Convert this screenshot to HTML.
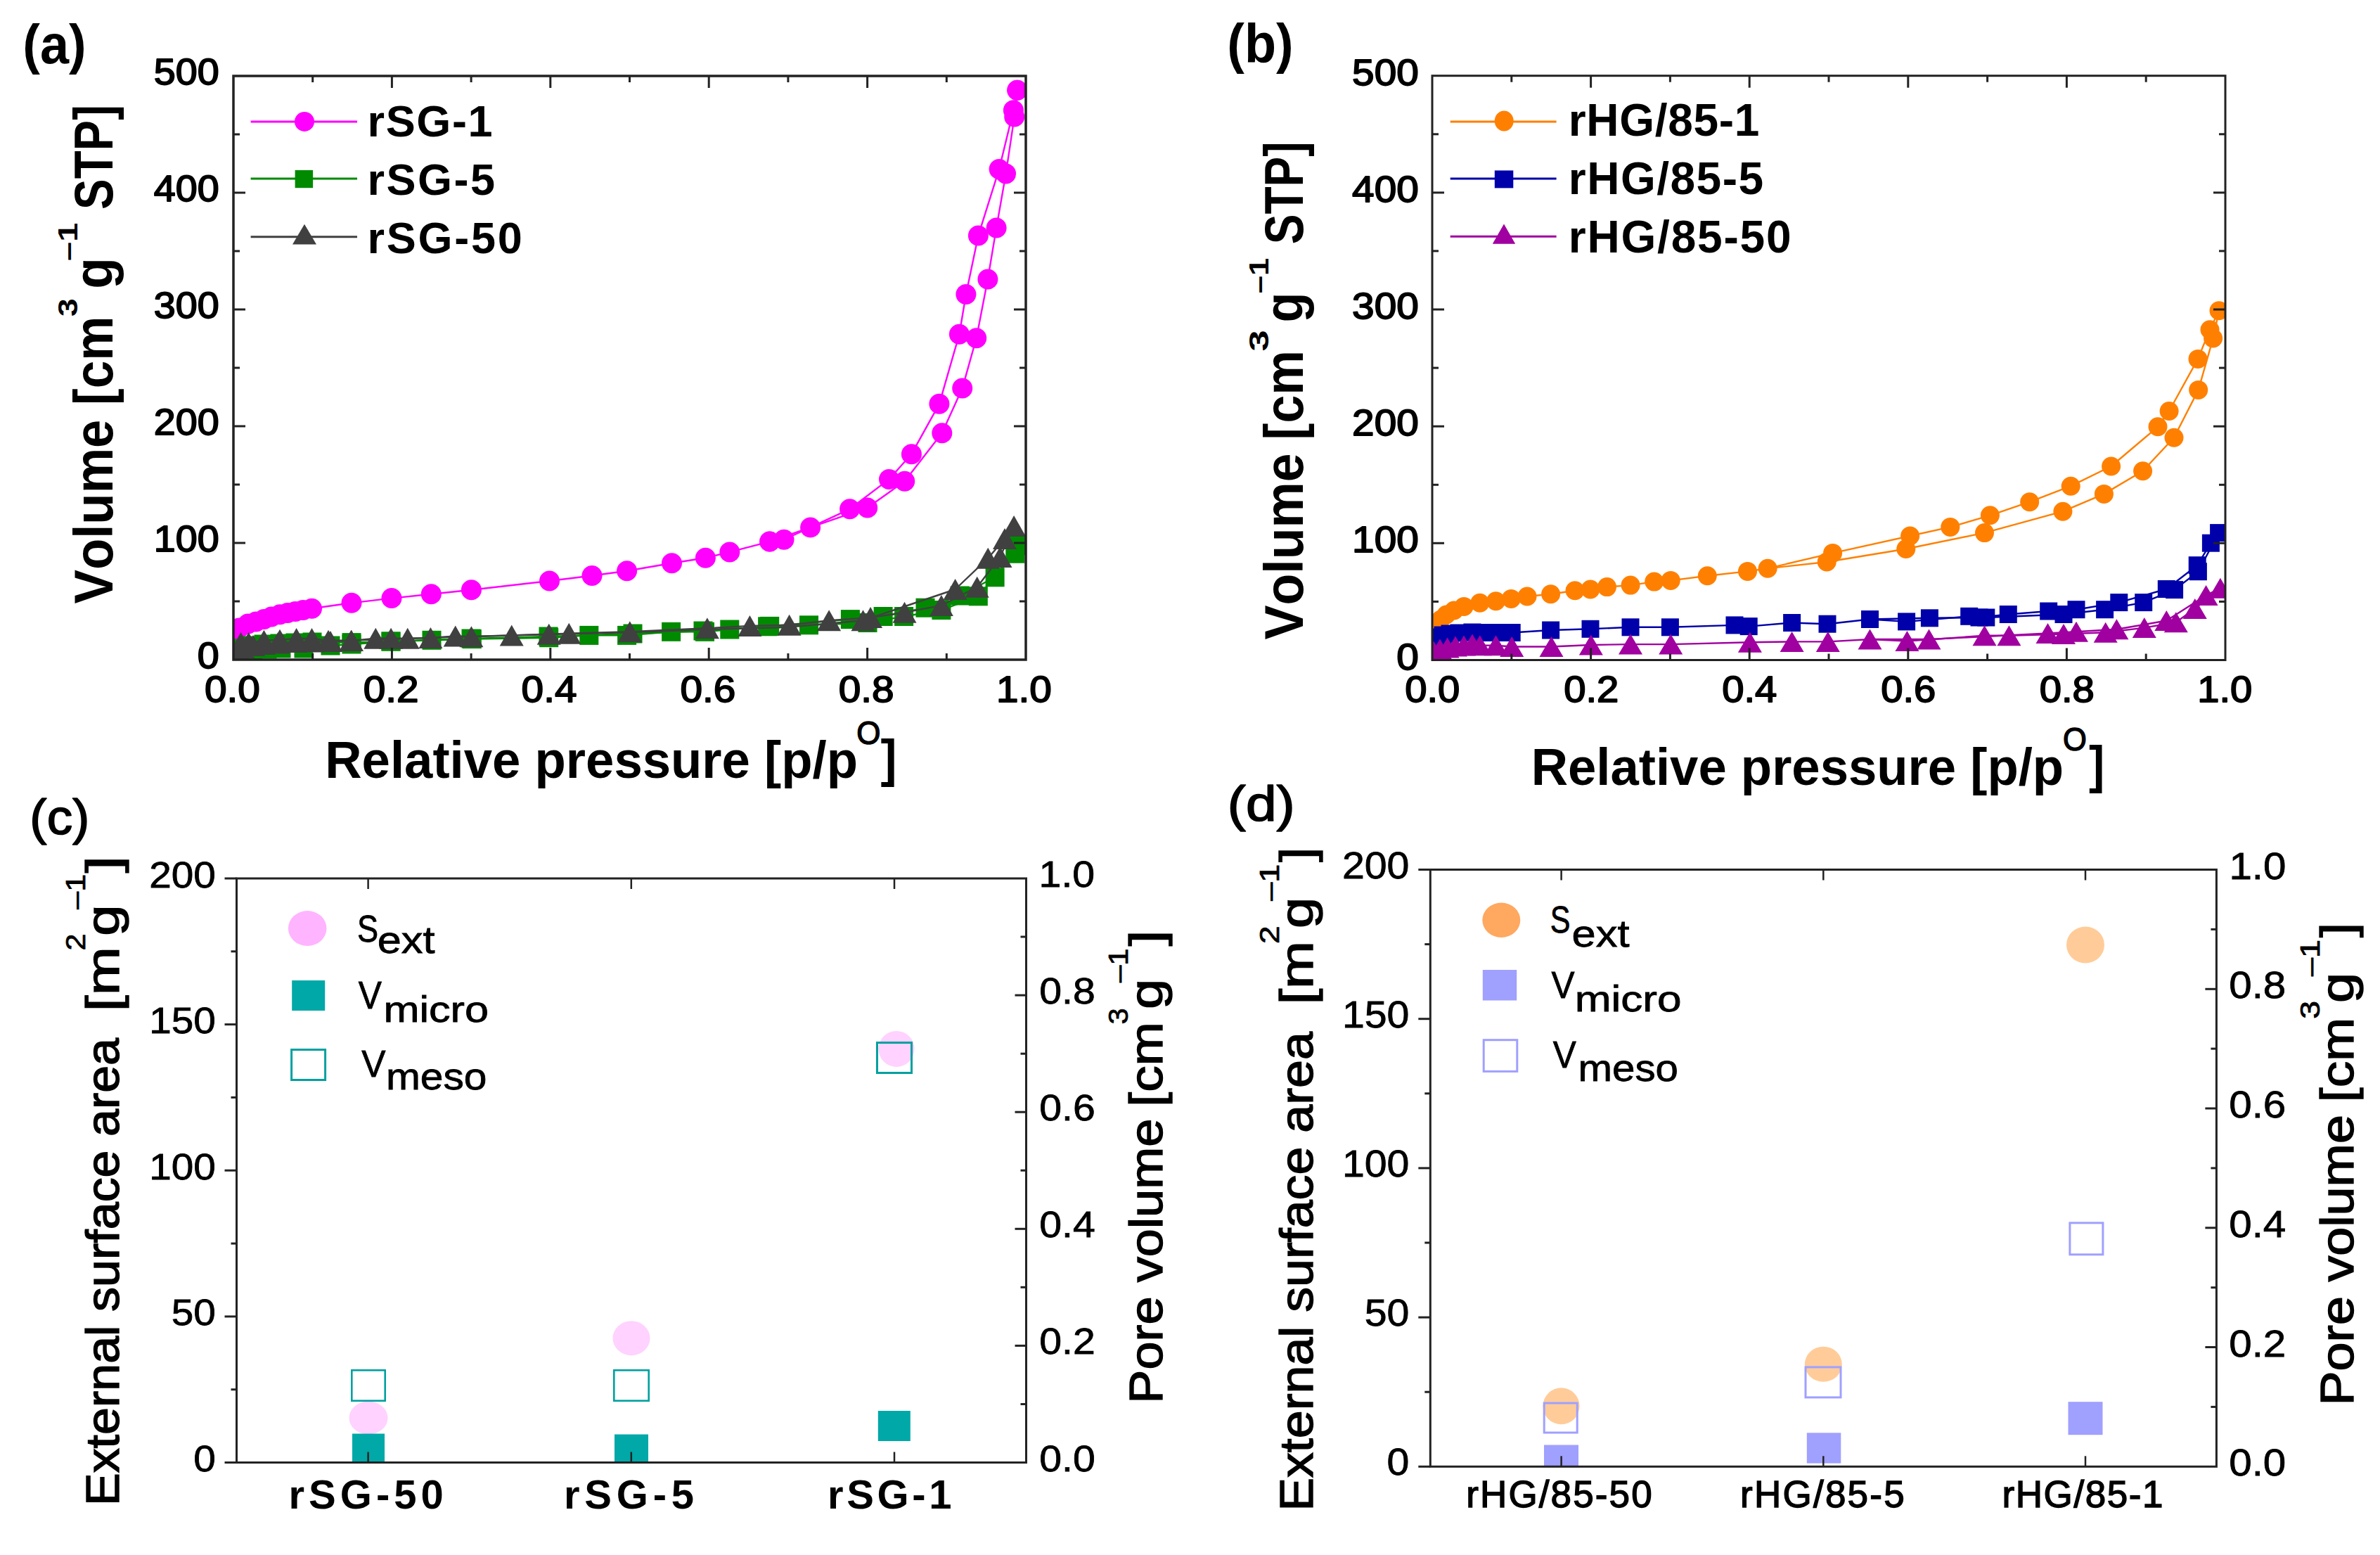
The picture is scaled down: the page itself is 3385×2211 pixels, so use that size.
<!DOCTYPE html><html><head><meta charset="utf-8"><title>Nitrogen sorption isotherms and pore parameters</title><style>html,body{margin:0;padding:0;background:#fff;width:3385px;height:2211px;overflow:hidden}svg{display:block}text{font-family:"Liberation Sans", sans-serif;font-kerning:none;white-space:pre}</style></head><body><svg width="3385" height="2211" viewBox="0 0 3385 2211">
<rect width="3385" height="2211" fill="#fff"/>
<defs><clipPath id="ca"><rect x="332" y="108" width="1127" height="830"/></clipPath><clipPath id="cb"><rect x="2037" y="107.7" width="1128" height="830.8"/></clipPath><clipPath id="cc"><rect x="336.5" y="1249" width="1123" height="830.5"/></clipPath><clipPath id="cd"><rect x="2034.3" y="1236.5" width="1118.1" height="848.8"/></clipPath></defs>
<g clip-path="url(#ca)">
<polyline points="333.4,902.0 340.0,893.0 352.7,887.0 364.0,884.0 375.4,880.4 386.0,877.0 398.0,873.7 409.0,871.5 420.0,869.5 431.0,867.5 443.5,865.3 500.0,857.3 557.0,850.6 613.3,844.7 670.4,838.8 781.5,826.0 842.0,818.5 891.6,811.8 955.5,800.8 1003.4,793.3 1037.8,784.9 1094.7,770.1 1152.6,749.9 1233.7,721.9 1286.7,684.3 1339.8,615.8 1368.7,552.1 1388.7,480.7 1404.9,397.0 1417.1,324.1 1430.6,247.1 1442.7,166.1 1446.8,128.3" fill="none" stroke="#ff00ff" stroke-width="2.4" stroke-linejoin="round"/>
<polyline points="1446.8,128.3 1441.4,156.7 1421.1,240.4 1391.4,334.9 1373.9,418.6 1364.4,475.3 1335.9,574.3 1296.4,645.7 1264.5,681.4 1208.6,723.8 1115.0,767.2 1094.7,770.1" fill="none" stroke="#ff00ff" stroke-width="2.4" stroke-linejoin="round"/>
<circle cx="333.4" cy="902.0" r="14.5" fill="#ff00ff"/>
<circle cx="340.0" cy="893.0" r="14.5" fill="#ff00ff"/>
<circle cx="352.7" cy="887.0" r="14.5" fill="#ff00ff"/>
<circle cx="364.0" cy="884.0" r="14.5" fill="#ff00ff"/>
<circle cx="375.4" cy="880.4" r="14.5" fill="#ff00ff"/>
<circle cx="386.0" cy="877.0" r="14.5" fill="#ff00ff"/>
<circle cx="398.0" cy="873.7" r="14.5" fill="#ff00ff"/>
<circle cx="409.0" cy="871.5" r="14.5" fill="#ff00ff"/>
<circle cx="420.0" cy="869.5" r="14.5" fill="#ff00ff"/>
<circle cx="431.0" cy="867.5" r="14.5" fill="#ff00ff"/>
<circle cx="443.5" cy="865.3" r="14.5" fill="#ff00ff"/>
<circle cx="500.0" cy="857.3" r="14.5" fill="#ff00ff"/>
<circle cx="557.0" cy="850.6" r="14.5" fill="#ff00ff"/>
<circle cx="613.3" cy="844.7" r="14.5" fill="#ff00ff"/>
<circle cx="670.4" cy="838.8" r="14.5" fill="#ff00ff"/>
<circle cx="781.5" cy="826.0" r="14.5" fill="#ff00ff"/>
<circle cx="842.0" cy="818.5" r="14.5" fill="#ff00ff"/>
<circle cx="891.6" cy="811.8" r="14.5" fill="#ff00ff"/>
<circle cx="955.5" cy="800.8" r="14.5" fill="#ff00ff"/>
<circle cx="1003.4" cy="793.3" r="14.5" fill="#ff00ff"/>
<circle cx="1037.8" cy="784.9" r="14.5" fill="#ff00ff"/>
<circle cx="1094.7" cy="770.1" r="14.5" fill="#ff00ff"/>
<circle cx="1152.6" cy="749.9" r="14.5" fill="#ff00ff"/>
<circle cx="1233.7" cy="721.9" r="14.5" fill="#ff00ff"/>
<circle cx="1286.7" cy="684.3" r="14.5" fill="#ff00ff"/>
<circle cx="1339.8" cy="615.8" r="14.5" fill="#ff00ff"/>
<circle cx="1368.7" cy="552.1" r="14.5" fill="#ff00ff"/>
<circle cx="1388.7" cy="480.7" r="14.5" fill="#ff00ff"/>
<circle cx="1404.9" cy="397.0" r="14.5" fill="#ff00ff"/>
<circle cx="1417.1" cy="324.1" r="14.5" fill="#ff00ff"/>
<circle cx="1430.6" cy="247.1" r="14.5" fill="#ff00ff"/>
<circle cx="1442.7" cy="166.1" r="14.5" fill="#ff00ff"/>
<circle cx="1446.8" cy="128.3" r="14.5" fill="#ff00ff"/>
<circle cx="1446.8" cy="128.3" r="14.5" fill="#ff00ff"/>
<circle cx="1441.4" cy="156.7" r="14.5" fill="#ff00ff"/>
<circle cx="1421.1" cy="240.4" r="14.5" fill="#ff00ff"/>
<circle cx="1391.4" cy="334.9" r="14.5" fill="#ff00ff"/>
<circle cx="1373.9" cy="418.6" r="14.5" fill="#ff00ff"/>
<circle cx="1364.4" cy="475.3" r="14.5" fill="#ff00ff"/>
<circle cx="1335.9" cy="574.3" r="14.5" fill="#ff00ff"/>
<circle cx="1296.4" cy="645.7" r="14.5" fill="#ff00ff"/>
<circle cx="1264.5" cy="681.4" r="14.5" fill="#ff00ff"/>
<circle cx="1208.6" cy="723.8" r="14.5" fill="#ff00ff"/>
<circle cx="1115.0" cy="767.2" r="14.5" fill="#ff00ff"/>
<circle cx="1094.7" cy="770.1" r="14.5" fill="#ff00ff"/>
<polyline points="334.0,934.0 345.0,930.0 360.0,926.0 380.0,923.0 400.0,922.0 432.0,922.0 470.0,918.0 500.0,916.0 556.0,912.0 614.0,910.3 671.3,908.6 780.7,906.7 837.8,903.4 891.6,903.4 954.6,898.3 1002.5,898.3 1037.8,895.0 1094.7,890.4 1150.5,888.8 1234.0,885.5 1285.6,876.5 1338.9,867.5 1391.3,847.8 1443.8,787.2 1447.0,775.7" fill="none" stroke="#008a00" stroke-width="2.4" stroke-linejoin="round"/>
<polyline points="1447.0,775.7 1415.1,820.8 1365.1,847.0 1316.0,864.2 1256.1,876.5 1209.4,880.6 1091.6,890.8 1000.0,897.0 900.0,901.0 780.0,905.0 670.0,908.0 556.0,912.0 500.0,913.6 444.0,913.0 420.0,914.0 398.0,915.0 375.0,916.0 353.0,918.0 340.0,922.0" fill="none" stroke="#008a00" stroke-width="2.4" stroke-linejoin="round"/>
<rect x="320.5" y="920.5" width="27" height="27" fill="#008a00"/>
<rect x="331.5" y="916.5" width="27" height="27" fill="#008a00"/>
<rect x="346.5" y="912.5" width="27" height="27" fill="#008a00"/>
<rect x="366.5" y="909.5" width="27" height="27" fill="#008a00"/>
<rect x="386.5" y="908.5" width="27" height="27" fill="#008a00"/>
<rect x="418.5" y="908.5" width="27" height="27" fill="#008a00"/>
<rect x="456.5" y="904.5" width="27" height="27" fill="#008a00"/>
<rect x="486.5" y="902.5" width="27" height="27" fill="#008a00"/>
<rect x="542.5" y="898.5" width="27" height="27" fill="#008a00"/>
<rect x="600.5" y="896.8" width="27" height="27" fill="#008a00"/>
<rect x="657.8" y="895.1" width="27" height="27" fill="#008a00"/>
<rect x="767.2" y="893.2" width="27" height="27" fill="#008a00"/>
<rect x="824.3" y="889.9" width="27" height="27" fill="#008a00"/>
<rect x="878.1" y="889.9" width="27" height="27" fill="#008a00"/>
<rect x="941.1" y="884.8" width="27" height="27" fill="#008a00"/>
<rect x="989.0" y="884.8" width="27" height="27" fill="#008a00"/>
<rect x="1024.3" y="881.5" width="27" height="27" fill="#008a00"/>
<rect x="1081.2" y="876.9" width="27" height="27" fill="#008a00"/>
<rect x="1137.0" y="875.3" width="27" height="27" fill="#008a00"/>
<rect x="1220.5" y="872.0" width="27" height="27" fill="#008a00"/>
<rect x="1272.1" y="863.0" width="27" height="27" fill="#008a00"/>
<rect x="1325.4" y="854.0" width="27" height="27" fill="#008a00"/>
<rect x="1377.8" y="834.3" width="27" height="27" fill="#008a00"/>
<rect x="1430.3" y="773.7" width="27" height="27" fill="#008a00"/>
<rect x="1433.5" y="762.2" width="27" height="27" fill="#008a00"/>
<rect x="1401.6" y="807.3" width="27" height="27" fill="#008a00"/>
<rect x="1351.6" y="833.5" width="27" height="27" fill="#008a00"/>
<rect x="1302.5" y="850.7" width="27" height="27" fill="#008a00"/>
<rect x="1242.6" y="863.0" width="27" height="27" fill="#008a00"/>
<rect x="1195.9" y="867.1" width="27" height="27" fill="#008a00"/>
<rect x="1078.1" y="877.3" width="27" height="27" fill="#008a00"/>
<rect x="986.5" y="883.5" width="27" height="27" fill="#008a00"/>
<rect x="886.5" y="887.5" width="27" height="27" fill="#008a00"/>
<rect x="766.5" y="891.5" width="27" height="27" fill="#008a00"/>
<rect x="656.5" y="894.5" width="27" height="27" fill="#008a00"/>
<rect x="542.5" y="898.5" width="27" height="27" fill="#008a00"/>
<rect x="486.5" y="900.1" width="27" height="27" fill="#008a00"/>
<rect x="430.5" y="899.5" width="27" height="27" fill="#008a00"/>
<rect x="406.5" y="900.5" width="27" height="27" fill="#008a00"/>
<rect x="384.5" y="901.5" width="27" height="27" fill="#008a00"/>
<rect x="361.5" y="902.5" width="27" height="27" fill="#008a00"/>
<rect x="339.5" y="904.5" width="27" height="27" fill="#008a00"/>
<rect x="326.5" y="908.5" width="27" height="27" fill="#008a00"/>
<polyline points="334.0,928.0 338.0,924.0 345.0,921.0 360.0,918.0 375.0,916.0 395.0,914.5 420.0,913.0 445.0,912.5 470.0,912.0 500.0,911.0 534.3,907.7 556.1,907.7 579.7,907.7 612.4,906.9 647.7,904.4 670.4,905.2 727.7,903.4 780.7,901.7 809.2,900.8 895.8,898.3 1005.9,893.3 1066.4,889.9 1122.6,888.8 1179.1,882.2 1238.1,878.1 1286.5,870.7 1338.9,860.9 1389.7,834.7 1422.5,792.1 1442.1,747.9" fill="none" stroke="#404040" stroke-width="2.4" stroke-linejoin="round"/>
<polyline points="1442.1,747.9 1429.0,765.9 1405.2,793.7 1358.6,838.0 1227.5,882.2 1117.7,892.0 1000.0,895.0 900.0,899.0 780.0,902.0 670.0,905.0 499.4,910.7 467.0,910.7 443.5,908.0 421.6,908.0 398.0,909.8 375.4,910.7 353.6,914.0 342.6,914.0" fill="none" stroke="#404040" stroke-width="2.4" stroke-linejoin="round"/>
<polygon points="334.0,913.0 317.0,943.0 351.0,943.0" fill="#404040"/>
<polygon points="338.0,909.0 321.0,939.0 355.0,939.0" fill="#404040"/>
<polygon points="345.0,906.0 328.0,936.0 362.0,936.0" fill="#404040"/>
<polygon points="360.0,903.0 343.0,933.0 377.0,933.0" fill="#404040"/>
<polygon points="375.0,901.0 358.0,931.0 392.0,931.0" fill="#404040"/>
<polygon points="395.0,899.5 378.0,929.5 412.0,929.5" fill="#404040"/>
<polygon points="420.0,898.0 403.0,928.0 437.0,928.0" fill="#404040"/>
<polygon points="445.0,897.5 428.0,927.5 462.0,927.5" fill="#404040"/>
<polygon points="470.0,897.0 453.0,927.0 487.0,927.0" fill="#404040"/>
<polygon points="500.0,896.0 483.0,926.0 517.0,926.0" fill="#404040"/>
<polygon points="534.3,892.7 517.3,922.7 551.3,922.7" fill="#404040"/>
<polygon points="556.1,892.7 539.1,922.7 573.1,922.7" fill="#404040"/>
<polygon points="579.7,892.7 562.7,922.7 596.7,922.7" fill="#404040"/>
<polygon points="612.4,891.9 595.4,921.9 629.4,921.9" fill="#404040"/>
<polygon points="647.7,889.4 630.7,919.4 664.7,919.4" fill="#404040"/>
<polygon points="670.4,890.2 653.4,920.2 687.4,920.2" fill="#404040"/>
<polygon points="727.7,888.4 710.7,918.4 744.7,918.4" fill="#404040"/>
<polygon points="780.7,886.7 763.7,916.7 797.7,916.7" fill="#404040"/>
<polygon points="809.2,885.8 792.2,915.8 826.2,915.8" fill="#404040"/>
<polygon points="895.8,883.3 878.8,913.3 912.8,913.3" fill="#404040"/>
<polygon points="1005.9,878.3 988.9,908.3 1022.9,908.3" fill="#404040"/>
<polygon points="1066.4,874.9 1049.4,904.9 1083.4,904.9" fill="#404040"/>
<polygon points="1122.6,873.8 1105.6,903.8 1139.6,903.8" fill="#404040"/>
<polygon points="1179.1,867.2 1162.1,897.2 1196.1,897.2" fill="#404040"/>
<polygon points="1238.1,863.1 1221.1,893.1 1255.1,893.1" fill="#404040"/>
<polygon points="1286.5,855.7 1269.5,885.7 1303.5,885.7" fill="#404040"/>
<polygon points="1338.9,845.9 1321.9,875.9 1355.9,875.9" fill="#404040"/>
<polygon points="1389.7,819.7 1372.7,849.7 1406.7,849.7" fill="#404040"/>
<polygon points="1422.5,777.1 1405.5,807.1 1439.5,807.1" fill="#404040"/>
<polygon points="1442.1,732.9 1425.1,762.9 1459.1,762.9" fill="#404040"/>
<polygon points="1429.0,750.9 1412.0,780.9 1446.0,780.9" fill="#404040"/>
<polygon points="1405.2,778.7 1388.2,808.7 1422.2,808.7" fill="#404040"/>
<polygon points="1358.6,823.0 1341.6,853.0 1375.6,853.0" fill="#404040"/>
<polygon points="1227.5,867.2 1210.5,897.2 1244.5,897.2" fill="#404040"/>
<polygon points="499.4,895.7 482.4,925.7 516.4,925.7" fill="#404040"/>
<polygon points="467.0,895.7 450.0,925.7 484.0,925.7" fill="#404040"/>
<polygon points="443.5,893.0 426.5,923.0 460.5,923.0" fill="#404040"/>
<polygon points="421.6,893.0 404.6,923.0 438.6,923.0" fill="#404040"/>
<polygon points="398.0,894.8 381.0,924.8 415.0,924.8" fill="#404040"/>
<polygon points="375.4,895.7 358.4,925.7 392.4,925.7" fill="#404040"/>
<polygon points="353.6,899.0 336.6,929.0 370.6,929.0" fill="#404040"/>
<polygon points="342.6,899.0 325.6,929.0 359.6,929.0" fill="#404040"/>
</g>
<rect x="332.0" y="108.0" width="1127.0" height="830.0" fill="none" stroke="#222" stroke-width="3.5"/>
<line x1="444.7" y1="938.0" x2="444.7" y2="929.0" stroke="#222" stroke-width="3"/>
<line x1="444.7" y1="108.0" x2="444.7" y2="117.0" stroke="#222" stroke-width="3"/>
<line x1="332.0" y1="855.0" x2="341.0" y2="855.0" stroke="#222" stroke-width="3"/>
<line x1="1459.0" y1="855.0" x2="1450.0" y2="855.0" stroke="#222" stroke-width="3"/>
<line x1="557.4" y1="938.0" x2="557.4" y2="921.0" stroke="#222" stroke-width="3"/>
<line x1="557.4" y1="108.0" x2="557.4" y2="125.0" stroke="#222" stroke-width="3"/>
<line x1="332.0" y1="772.0" x2="349.0" y2="772.0" stroke="#222" stroke-width="3"/>
<line x1="1459.0" y1="772.0" x2="1442.0" y2="772.0" stroke="#222" stroke-width="3"/>
<line x1="670.1" y1="938.0" x2="670.1" y2="929.0" stroke="#222" stroke-width="3"/>
<line x1="670.1" y1="108.0" x2="670.1" y2="117.0" stroke="#222" stroke-width="3"/>
<line x1="332.0" y1="689.0" x2="341.0" y2="689.0" stroke="#222" stroke-width="3"/>
<line x1="1459.0" y1="689.0" x2="1450.0" y2="689.0" stroke="#222" stroke-width="3"/>
<line x1="782.8" y1="938.0" x2="782.8" y2="921.0" stroke="#222" stroke-width="3"/>
<line x1="782.8" y1="108.0" x2="782.8" y2="125.0" stroke="#222" stroke-width="3"/>
<line x1="332.0" y1="606.0" x2="349.0" y2="606.0" stroke="#222" stroke-width="3"/>
<line x1="1459.0" y1="606.0" x2="1442.0" y2="606.0" stroke="#222" stroke-width="3"/>
<line x1="895.5" y1="938.0" x2="895.5" y2="929.0" stroke="#222" stroke-width="3"/>
<line x1="895.5" y1="108.0" x2="895.5" y2="117.0" stroke="#222" stroke-width="3"/>
<line x1="332.0" y1="523.0" x2="341.0" y2="523.0" stroke="#222" stroke-width="3"/>
<line x1="1459.0" y1="523.0" x2="1450.0" y2="523.0" stroke="#222" stroke-width="3"/>
<line x1="1008.2" y1="938.0" x2="1008.2" y2="921.0" stroke="#222" stroke-width="3"/>
<line x1="1008.2" y1="108.0" x2="1008.2" y2="125.0" stroke="#222" stroke-width="3"/>
<line x1="332.0" y1="440.0" x2="349.0" y2="440.0" stroke="#222" stroke-width="3"/>
<line x1="1459.0" y1="440.0" x2="1442.0" y2="440.0" stroke="#222" stroke-width="3"/>
<line x1="1120.9" y1="938.0" x2="1120.9" y2="929.0" stroke="#222" stroke-width="3"/>
<line x1="1120.9" y1="108.0" x2="1120.9" y2="117.0" stroke="#222" stroke-width="3"/>
<line x1="332.0" y1="357.0" x2="341.0" y2="357.0" stroke="#222" stroke-width="3"/>
<line x1="1459.0" y1="357.0" x2="1450.0" y2="357.0" stroke="#222" stroke-width="3"/>
<line x1="1233.6" y1="938.0" x2="1233.6" y2="921.0" stroke="#222" stroke-width="3"/>
<line x1="1233.6" y1="108.0" x2="1233.6" y2="125.0" stroke="#222" stroke-width="3"/>
<line x1="332.0" y1="274.0" x2="349.0" y2="274.0" stroke="#222" stroke-width="3"/>
<line x1="1459.0" y1="274.0" x2="1442.0" y2="274.0" stroke="#222" stroke-width="3"/>
<line x1="1346.3" y1="938.0" x2="1346.3" y2="929.0" stroke="#222" stroke-width="3"/>
<line x1="1346.3" y1="108.0" x2="1346.3" y2="117.0" stroke="#222" stroke-width="3"/>
<line x1="332.0" y1="191.0" x2="341.0" y2="191.0" stroke="#222" stroke-width="3"/>
<line x1="1459.0" y1="191.0" x2="1450.0" y2="191.0" stroke="#222" stroke-width="3"/>
<text x="291.09" y="998.00" font-size="52.5" font-weight="normal" fill="#000" textLength="78.82" lengthAdjust="spacingAndGlyphs" stroke="#000" stroke-width="1.8" stroke-linejoin="round">0.0</text>
<text x="280.74" y="950.30" font-size="51.5" font-weight="normal" fill="#000" textLength="30.93" lengthAdjust="spacingAndGlyphs" stroke="#000" stroke-width="1.8" stroke-linejoin="round">0</text>
<text x="516.81" y="998.00" font-size="52.5" font-weight="normal" fill="#000" textLength="78.82" lengthAdjust="spacingAndGlyphs" stroke="#000" stroke-width="1.8" stroke-linejoin="round">0.2</text>
<text x="218.87" y="784.30" font-size="51.5" font-weight="normal" fill="#000" textLength="92.80" lengthAdjust="spacingAndGlyphs" stroke="#000" stroke-width="1.8" stroke-linejoin="round">100</text>
<text x="741.61" y="998.00" font-size="52.5" font-weight="normal" fill="#000" textLength="78.82" lengthAdjust="spacingAndGlyphs" stroke="#000" stroke-width="1.8" stroke-linejoin="round">0.4</text>
<text x="218.87" y="618.30" font-size="51.5" font-weight="normal" fill="#000" textLength="92.80" lengthAdjust="spacingAndGlyphs" stroke="#000" stroke-width="1.8" stroke-linejoin="round">200</text>
<text x="967.43" y="998.00" font-size="52.5" font-weight="normal" fill="#000" textLength="78.82" lengthAdjust="spacingAndGlyphs" stroke="#000" stroke-width="1.8" stroke-linejoin="round">0.6</text>
<text x="218.87" y="452.30" font-size="51.5" font-weight="normal" fill="#000" textLength="92.80" lengthAdjust="spacingAndGlyphs" stroke="#000" stroke-width="1.8" stroke-linejoin="round">300</text>
<text x="1192.81" y="998.00" font-size="52.5" font-weight="normal" fill="#000" textLength="78.82" lengthAdjust="spacingAndGlyphs" stroke="#000" stroke-width="1.8" stroke-linejoin="round">0.8</text>
<text x="218.87" y="286.30" font-size="51.5" font-weight="normal" fill="#000" textLength="92.80" lengthAdjust="spacingAndGlyphs" stroke="#000" stroke-width="1.8" stroke-linejoin="round">400</text>
<text x="1417.04" y="998.00" font-size="52.5" font-weight="normal" fill="#000" textLength="78.82" lengthAdjust="spacingAndGlyphs" stroke="#000" stroke-width="1.8" stroke-linejoin="round">1.0</text>
<text x="218.87" y="120.30" font-size="51.5" font-weight="normal" fill="#000" textLength="92.80" lengthAdjust="spacingAndGlyphs" stroke="#000" stroke-width="1.8" stroke-linejoin="round">500</text>
<line x1="356.6" y1="172.9" x2="508.0" y2="172.9" stroke="#ff00ff" stroke-width="3"/>
<circle cx="433.0" cy="172.9" r="14" fill="#ff00ff"/>
<text x="522.55" y="194.00" font-size="63" font-weight="bold" letter-spacing="1.61" >rSG-1</text>
<line x1="356.6" y1="254.0" x2="508.0" y2="254.0" stroke="#008a00" stroke-width="3"/>
<rect x="419.6" y="241.9" width="25.5" height="25.3" fill="#008a00"/>
<text x="522.55" y="276.80" font-size="63" font-weight="bold" letter-spacing="2.51" >rSG-5</text>
<line x1="356.6" y1="336.8" x2="508.0" y2="336.8" stroke="#404040" stroke-width="3"/>
<polygon points="433.0,318.8 416.0,347.6 450.0,347.6" fill="#404040"/>
<text x="522.55" y="359.60" font-size="63" font-weight="bold" letter-spacing="2.75" >rSG-50</text>
<text x="32.32" y="90.20" font-size="77.3" font-weight="bold" fill="#000" textLength="90.36" lengthAdjust="spacingAndGlyphs" >(a)</text>
<text transform="translate(160.20,858.00) rotate(-90)" x="-0.50" y="0" font-size="77" font-weight="bold" textLength="261.97" lengthAdjust="spacingAndGlyphs" >Volume</text>
<text transform="translate(160.20,572.00) rotate(-90)" x="-3.99" y="0" font-size="77" font-weight="bold" textLength="126.40" lengthAdjust="spacingAndGlyphs" >[cm</text>
<text transform="translate(110.00,449.00) rotate(-90)" x="-1.06" y="0" font-size="38" font-weight="bold" textLength="25.73" lengthAdjust="spacingAndGlyphs" >3</text>
<text transform="translate(160.20,407.70) rotate(-90)" x="-2.99" y="0" font-size="77" font-weight="bold" textLength="44.57" lengthAdjust="spacingAndGlyphs" >g</text>
<text transform="translate(110.00,369.50) rotate(-90)" x="-1.48" y="0" font-size="38" font-weight="bold" textLength="54.34" lengthAdjust="spacingAndGlyphs" >–1</text>
<text transform="translate(160.20,296.00) rotate(-90)" x="-1.88" y="0" font-size="77" font-weight="bold" textLength="148.85" lengthAdjust="spacingAndGlyphs" >STP]</text>
<text x="462.25" y="1105.90" font-size="75" font-weight="bold" fill="#000" textLength="757.73" lengthAdjust="spacingAndGlyphs" >Relative pressure [p/p</text>
<text x="1218.32" y="1057.70" font-size="45.6" font-weight="normal" fill="#000" textLength="34.18" lengthAdjust="spacingAndGlyphs" stroke="#000" stroke-width="1.4">O</text>
<text x="1252.46" y="1104.00" font-size="75" font-weight="bold" fill="#000" textLength="23.03" lengthAdjust="spacingAndGlyphs" >]</text>
<g clip-path="url(#cb)">
<polyline points="2039.0,897.0 2043.0,889.0 2049.0,881.0 2057.0,874.0 2068.0,868.0 2082.1,862.4 2104.8,857.3 2127.5,854.8 2149.3,851.4 2172.0,848.0 2205.6,844.7 2240.0,839.7 2262.0,838.0 2285.5,834.6 2319.0,832.1 2352.7,827.1 2376.2,825.4 2428.3,818.7 2485.5,812.4 2514.1,808.2 2598.2,799.0 2710.8,780.5 2822.5,757.6 2933.9,727.2 2992.4,702.4 3047.6,669.8 3092.0,622.3 3126.7,554.4 3147.6,481.0 3156.0,441.7" fill="none" stroke="#ff8000" stroke-width="2.4" stroke-linejoin="round"/>
<polyline points="3156.0,441.7 3143.0,468.7 3126.0,510.4 3085.1,584.5 3069.0,606.8 3002.6,663.0 2945.2,691.2 2886.7,713.7 2830.4,732.8 2773.8,749.4 2716.6,762.0 2606.6,786.4 2514.1,808.2" fill="none" stroke="#ff8000" stroke-width="2.4" stroke-linejoin="round"/>
<circle cx="2039.0" cy="897.0" r="13.5" fill="#ff8000"/>
<circle cx="2043.0" cy="889.0" r="13.5" fill="#ff8000"/>
<circle cx="2049.0" cy="881.0" r="13.5" fill="#ff8000"/>
<circle cx="2057.0" cy="874.0" r="13.5" fill="#ff8000"/>
<circle cx="2068.0" cy="868.0" r="13.5" fill="#ff8000"/>
<circle cx="2082.1" cy="862.4" r="13.5" fill="#ff8000"/>
<circle cx="2104.8" cy="857.3" r="13.5" fill="#ff8000"/>
<circle cx="2127.5" cy="854.8" r="13.5" fill="#ff8000"/>
<circle cx="2149.3" cy="851.4" r="13.5" fill="#ff8000"/>
<circle cx="2172.0" cy="848.0" r="13.5" fill="#ff8000"/>
<circle cx="2205.6" cy="844.7" r="13.5" fill="#ff8000"/>
<circle cx="2240.0" cy="839.7" r="13.5" fill="#ff8000"/>
<circle cx="2262.0" cy="838.0" r="13.5" fill="#ff8000"/>
<circle cx="2285.5" cy="834.6" r="13.5" fill="#ff8000"/>
<circle cx="2319.0" cy="832.1" r="13.5" fill="#ff8000"/>
<circle cx="2352.7" cy="827.1" r="13.5" fill="#ff8000"/>
<circle cx="2376.2" cy="825.4" r="13.5" fill="#ff8000"/>
<circle cx="2428.3" cy="818.7" r="13.5" fill="#ff8000"/>
<circle cx="2485.5" cy="812.4" r="13.5" fill="#ff8000"/>
<circle cx="2514.1" cy="808.2" r="13.5" fill="#ff8000"/>
<circle cx="2598.2" cy="799.0" r="13.5" fill="#ff8000"/>
<circle cx="2710.8" cy="780.5" r="13.5" fill="#ff8000"/>
<circle cx="2822.5" cy="757.6" r="13.5" fill="#ff8000"/>
<circle cx="2933.9" cy="727.2" r="13.5" fill="#ff8000"/>
<circle cx="2992.4" cy="702.4" r="13.5" fill="#ff8000"/>
<circle cx="3047.6" cy="669.8" r="13.5" fill="#ff8000"/>
<circle cx="3092.0" cy="622.3" r="13.5" fill="#ff8000"/>
<circle cx="3126.7" cy="554.4" r="13.5" fill="#ff8000"/>
<circle cx="3147.6" cy="481.0" r="13.5" fill="#ff8000"/>
<circle cx="3156.0" cy="441.7" r="13.5" fill="#ff8000"/>
<circle cx="3143.0" cy="468.7" r="13.5" fill="#ff8000"/>
<circle cx="3126.0" cy="510.4" r="13.5" fill="#ff8000"/>
<circle cx="3085.1" cy="584.5" r="13.5" fill="#ff8000"/>
<circle cx="3069.0" cy="606.8" r="13.5" fill="#ff8000"/>
<circle cx="3002.6" cy="663.0" r="13.5" fill="#ff8000"/>
<circle cx="2945.2" cy="691.2" r="13.5" fill="#ff8000"/>
<circle cx="2886.7" cy="713.7" r="13.5" fill="#ff8000"/>
<circle cx="2830.4" cy="732.8" r="13.5" fill="#ff8000"/>
<circle cx="2773.8" cy="749.4" r="13.5" fill="#ff8000"/>
<circle cx="2716.6" cy="762.0" r="13.5" fill="#ff8000"/>
<circle cx="2606.6" cy="786.4" r="13.5" fill="#ff8000"/>
<polyline points="2039.0,910.0 2045.0,906.0 2052.0,903.0 2062.0,901.0 2075.0,900.0 2093.9,899.0 2110.0,899.5 2130.0,899.5 2150.2,899.5 2205.6,896.0 2262.0,894.3 2319.0,891.8 2375.4,891.8 2467.0,888.9 2487.2,890.6 2548.6,885.5 2599.0,887.2 2659.5,880.5 2711.6,883.9 2800.7,876.3 2824.8,878.0 2935.0,873.5 2993.6,866.7 3048.7,856.6 3092.6,838.6 3126.4,812.7 3155.6,757.6" fill="none" stroke="#0000aa" stroke-width="2.4" stroke-linejoin="round"/>
<polyline points="3155.6,757.6 3144.4,772.2 3125.2,803.7 3081.3,837.5 3013.8,856.6 2953.0,866.7 2913.7,869.0 2856.3,873.5 2815.0,878.0 2744.4,878.8 2659.5,880.5" fill="none" stroke="#0000aa" stroke-width="2.4" stroke-linejoin="round"/>
<rect x="2026.5" y="897.5" width="25" height="25" fill="#0000aa"/>
<rect x="2032.5" y="893.5" width="25" height="25" fill="#0000aa"/>
<rect x="2039.5" y="890.5" width="25" height="25" fill="#0000aa"/>
<rect x="2049.5" y="888.5" width="25" height="25" fill="#0000aa"/>
<rect x="2062.5" y="887.5" width="25" height="25" fill="#0000aa"/>
<rect x="2081.4" y="886.5" width="25" height="25" fill="#0000aa"/>
<rect x="2097.5" y="887.0" width="25" height="25" fill="#0000aa"/>
<rect x="2117.5" y="887.0" width="25" height="25" fill="#0000aa"/>
<rect x="2137.7" y="887.0" width="25" height="25" fill="#0000aa"/>
<rect x="2193.1" y="883.5" width="25" height="25" fill="#0000aa"/>
<rect x="2249.5" y="881.8" width="25" height="25" fill="#0000aa"/>
<rect x="2306.5" y="879.3" width="25" height="25" fill="#0000aa"/>
<rect x="2362.9" y="879.3" width="25" height="25" fill="#0000aa"/>
<rect x="2454.5" y="876.4" width="25" height="25" fill="#0000aa"/>
<rect x="2474.7" y="878.1" width="25" height="25" fill="#0000aa"/>
<rect x="2536.1" y="873.0" width="25" height="25" fill="#0000aa"/>
<rect x="2586.5" y="874.7" width="25" height="25" fill="#0000aa"/>
<rect x="2647.0" y="868.0" width="25" height="25" fill="#0000aa"/>
<rect x="2699.1" y="871.4" width="25" height="25" fill="#0000aa"/>
<rect x="2788.2" y="863.8" width="25" height="25" fill="#0000aa"/>
<rect x="2812.3" y="865.5" width="25" height="25" fill="#0000aa"/>
<rect x="2922.5" y="861.0" width="25" height="25" fill="#0000aa"/>
<rect x="2981.1" y="854.2" width="25" height="25" fill="#0000aa"/>
<rect x="3036.2" y="844.1" width="25" height="25" fill="#0000aa"/>
<rect x="3080.1" y="826.1" width="25" height="25" fill="#0000aa"/>
<rect x="3113.9" y="800.2" width="25" height="25" fill="#0000aa"/>
<rect x="3143.1" y="745.1" width="25" height="25" fill="#0000aa"/>
<rect x="3131.9" y="759.7" width="25" height="25" fill="#0000aa"/>
<rect x="3112.7" y="791.2" width="25" height="25" fill="#0000aa"/>
<rect x="3068.8" y="825.0" width="25" height="25" fill="#0000aa"/>
<rect x="3001.3" y="844.1" width="25" height="25" fill="#0000aa"/>
<rect x="2940.5" y="854.2" width="25" height="25" fill="#0000aa"/>
<rect x="2901.2" y="856.5" width="25" height="25" fill="#0000aa"/>
<rect x="2843.8" y="861.0" width="25" height="25" fill="#0000aa"/>
<rect x="2802.5" y="865.5" width="25" height="25" fill="#0000aa"/>
<rect x="2731.9" y="866.3" width="25" height="25" fill="#0000aa"/>
<polyline points="2039.0,926.0 2048.0,923.0 2058.6,921.0 2070.0,919.0 2082.0,918.0 2094.0,916.0 2104.8,917.8 2127.5,917.8 2150.2,919.5 2206.5,919.5 2262.8,917.0 2319.0,916.1 2376.2,916.1 2488.9,913.3 2548.6,912.4 2599.8,912.4 2659.5,909.0 2712.4,911.6 2822.5,903.8 2857.4,903.8 2935.0,901.6 2994.7,899.3 3049.8,892.6 3094.8,884.7 3121.8,865.6 3157.9,836.3" fill="none" stroke="#a000a0" stroke-width="2.4" stroke-linejoin="round"/>
<polyline points="3157.9,836.3 3137.6,846.5 3081.3,882.5 3010.4,894.8 2953.0,898.2 2912.5,900.5 2743.5,909.0 2659.5,909.0" fill="none" stroke="#a000a0" stroke-width="2.4" stroke-linejoin="round"/>
<polygon points="2039.0,911.5 2022.0,940.5 2056.0,940.5" fill="#a000a0"/>
<polygon points="2048.0,908.5 2031.0,937.5 2065.0,937.5" fill="#a000a0"/>
<polygon points="2058.6,906.5 2041.6,935.5 2075.6,935.5" fill="#a000a0"/>
<polygon points="2070.0,904.5 2053.0,933.5 2087.0,933.5" fill="#a000a0"/>
<polygon points="2082.0,903.5 2065.0,932.5 2099.0,932.5" fill="#a000a0"/>
<polygon points="2094.0,901.5 2077.0,930.5 2111.0,930.5" fill="#a000a0"/>
<polygon points="2104.8,903.3 2087.8,932.3 2121.8,932.3" fill="#a000a0"/>
<polygon points="2127.5,903.3 2110.5,932.3 2144.5,932.3" fill="#a000a0"/>
<polygon points="2150.2,905.0 2133.2,934.0 2167.2,934.0" fill="#a000a0"/>
<polygon points="2206.5,905.0 2189.5,934.0 2223.5,934.0" fill="#a000a0"/>
<polygon points="2262.8,902.5 2245.8,931.5 2279.8,931.5" fill="#a000a0"/>
<polygon points="2319.0,901.6 2302.0,930.6 2336.0,930.6" fill="#a000a0"/>
<polygon points="2376.2,901.6 2359.2,930.6 2393.2,930.6" fill="#a000a0"/>
<polygon points="2488.9,898.8 2471.9,927.8 2505.9,927.8" fill="#a000a0"/>
<polygon points="2548.6,897.9 2531.6,926.9 2565.6,926.9" fill="#a000a0"/>
<polygon points="2599.8,897.9 2582.8,926.9 2616.8,926.9" fill="#a000a0"/>
<polygon points="2659.5,894.5 2642.5,923.5 2676.5,923.5" fill="#a000a0"/>
<polygon points="2712.4,897.1 2695.4,926.1 2729.4,926.1" fill="#a000a0"/>
<polygon points="2822.5,889.3 2805.5,918.3 2839.5,918.3" fill="#a000a0"/>
<polygon points="2857.4,889.3 2840.4,918.3 2874.4,918.3" fill="#a000a0"/>
<polygon points="2935.0,887.1 2918.0,916.1 2952.0,916.1" fill="#a000a0"/>
<polygon points="2994.7,884.8 2977.7,913.8 3011.7,913.8" fill="#a000a0"/>
<polygon points="3049.8,878.1 3032.8,907.1 3066.8,907.1" fill="#a000a0"/>
<polygon points="3094.8,870.2 3077.8,899.2 3111.8,899.2" fill="#a000a0"/>
<polygon points="3121.8,851.1 3104.8,880.1 3138.8,880.1" fill="#a000a0"/>
<polygon points="3157.9,821.8 3140.9,850.8 3174.9,850.8" fill="#a000a0"/>
<polygon points="3137.6,832.0 3120.6,861.0 3154.6,861.0" fill="#a000a0"/>
<polygon points="3081.3,868.0 3064.3,897.0 3098.3,897.0" fill="#a000a0"/>
<polygon points="3010.4,880.3 2993.4,909.3 3027.4,909.3" fill="#a000a0"/>
<polygon points="2953.0,883.7 2936.0,912.7 2970.0,912.7" fill="#a000a0"/>
<polygon points="2912.5,886.0 2895.5,915.0 2929.5,915.0" fill="#a000a0"/>
<polygon points="2743.5,894.5 2726.5,923.5 2760.5,923.5" fill="#a000a0"/>
</g>
<rect x="2037.0" y="107.7" width="1128.0" height="830.8" fill="none" stroke="#222" stroke-width="3"/>
<line x1="2149.8" y1="938.5" x2="2149.8" y2="929.5" stroke="#222" stroke-width="3"/>
<line x1="2149.8" y1="107.7" x2="2149.8" y2="116.7" stroke="#222" stroke-width="3"/>
<line x1="2037.0" y1="855.4" x2="2046.0" y2="855.4" stroke="#222" stroke-width="3"/>
<line x1="3165.0" y1="855.4" x2="3156.0" y2="855.4" stroke="#222" stroke-width="3"/>
<line x1="2262.6" y1="938.5" x2="2262.6" y2="921.5" stroke="#222" stroke-width="3"/>
<line x1="2262.6" y1="107.7" x2="2262.6" y2="124.7" stroke="#222" stroke-width="3"/>
<line x1="2037.0" y1="772.3" x2="2054.0" y2="772.3" stroke="#222" stroke-width="3"/>
<line x1="3165.0" y1="772.3" x2="3148.0" y2="772.3" stroke="#222" stroke-width="3"/>
<line x1="2375.4" y1="938.5" x2="2375.4" y2="929.5" stroke="#222" stroke-width="3"/>
<line x1="2375.4" y1="107.7" x2="2375.4" y2="116.7" stroke="#222" stroke-width="3"/>
<line x1="2037.0" y1="689.3" x2="2046.0" y2="689.3" stroke="#222" stroke-width="3"/>
<line x1="3165.0" y1="689.3" x2="3156.0" y2="689.3" stroke="#222" stroke-width="3"/>
<line x1="2488.2" y1="938.5" x2="2488.2" y2="921.5" stroke="#222" stroke-width="3"/>
<line x1="2488.2" y1="107.7" x2="2488.2" y2="124.7" stroke="#222" stroke-width="3"/>
<line x1="2037.0" y1="606.2" x2="2054.0" y2="606.2" stroke="#222" stroke-width="3"/>
<line x1="3165.0" y1="606.2" x2="3148.0" y2="606.2" stroke="#222" stroke-width="3"/>
<line x1="2601.0" y1="938.5" x2="2601.0" y2="929.5" stroke="#222" stroke-width="3"/>
<line x1="2601.0" y1="107.7" x2="2601.0" y2="116.7" stroke="#222" stroke-width="3"/>
<line x1="2037.0" y1="523.1" x2="2046.0" y2="523.1" stroke="#222" stroke-width="3"/>
<line x1="3165.0" y1="523.1" x2="3156.0" y2="523.1" stroke="#222" stroke-width="3"/>
<line x1="2713.8" y1="938.5" x2="2713.8" y2="921.5" stroke="#222" stroke-width="3"/>
<line x1="2713.8" y1="107.7" x2="2713.8" y2="124.7" stroke="#222" stroke-width="3"/>
<line x1="2037.0" y1="440.0" x2="2054.0" y2="440.0" stroke="#222" stroke-width="3"/>
<line x1="3165.0" y1="440.0" x2="3148.0" y2="440.0" stroke="#222" stroke-width="3"/>
<line x1="2826.6" y1="938.5" x2="2826.6" y2="929.5" stroke="#222" stroke-width="3"/>
<line x1="2826.6" y1="107.7" x2="2826.6" y2="116.7" stroke="#222" stroke-width="3"/>
<line x1="2037.0" y1="356.9" x2="2046.0" y2="356.9" stroke="#222" stroke-width="3"/>
<line x1="3165.0" y1="356.9" x2="3156.0" y2="356.9" stroke="#222" stroke-width="3"/>
<line x1="2939.4" y1="938.5" x2="2939.4" y2="921.5" stroke="#222" stroke-width="3"/>
<line x1="2939.4" y1="107.7" x2="2939.4" y2="124.7" stroke="#222" stroke-width="3"/>
<line x1="2037.0" y1="273.9" x2="2054.0" y2="273.9" stroke="#222" stroke-width="3"/>
<line x1="3165.0" y1="273.9" x2="3148.0" y2="273.9" stroke="#222" stroke-width="3"/>
<line x1="3052.2" y1="938.5" x2="3052.2" y2="929.5" stroke="#222" stroke-width="3"/>
<line x1="3052.2" y1="107.7" x2="3052.2" y2="116.7" stroke="#222" stroke-width="3"/>
<line x1="2037.0" y1="190.8" x2="2046.0" y2="190.8" stroke="#222" stroke-width="3"/>
<line x1="3165.0" y1="190.8" x2="3156.0" y2="190.8" stroke="#222" stroke-width="3"/>
<text x="1998.25" y="998.00" font-size="52.5" font-weight="normal" fill="#000" textLength="78.09" lengthAdjust="spacingAndGlyphs" stroke="#000" stroke-width="1.8" stroke-linejoin="round">0.0</text>
<text x="1986.18" y="951.50" font-size="52.5" font-weight="normal" fill="#000" textLength="31.53" lengthAdjust="spacingAndGlyphs" stroke="#000" stroke-width="1.8" stroke-linejoin="round">0</text>
<text x="2224.17" y="998.00" font-size="52.5" font-weight="normal" fill="#000" textLength="78.09" lengthAdjust="spacingAndGlyphs" stroke="#000" stroke-width="1.8" stroke-linejoin="round">0.2</text>
<text x="1923.11" y="785.34" font-size="52.5" font-weight="normal" fill="#000" textLength="94.60" lengthAdjust="spacingAndGlyphs" stroke="#000" stroke-width="1.8" stroke-linejoin="round">100</text>
<text x="2449.18" y="998.00" font-size="52.5" font-weight="normal" fill="#000" textLength="78.09" lengthAdjust="spacingAndGlyphs" stroke="#000" stroke-width="1.8" stroke-linejoin="round">0.4</text>
<text x="1923.11" y="619.18" font-size="52.5" font-weight="normal" fill="#000" textLength="94.60" lengthAdjust="spacingAndGlyphs" stroke="#000" stroke-width="1.8" stroke-linejoin="round">200</text>
<text x="2675.19" y="998.00" font-size="52.5" font-weight="normal" fill="#000" textLength="78.09" lengthAdjust="spacingAndGlyphs" stroke="#000" stroke-width="1.8" stroke-linejoin="round">0.6</text>
<text x="1923.11" y="453.02" font-size="52.5" font-weight="normal" fill="#000" textLength="94.60" lengthAdjust="spacingAndGlyphs" stroke="#000" stroke-width="1.8" stroke-linejoin="round">300</text>
<text x="2900.78" y="998.00" font-size="52.5" font-weight="normal" fill="#000" textLength="78.09" lengthAdjust="spacingAndGlyphs" stroke="#000" stroke-width="1.8" stroke-linejoin="round">0.8</text>
<text x="1923.11" y="286.86" font-size="52.5" font-weight="normal" fill="#000" textLength="94.60" lengthAdjust="spacingAndGlyphs" stroke="#000" stroke-width="1.8" stroke-linejoin="round">400</text>
<text x="3125.21" y="998.00" font-size="52.5" font-weight="normal" fill="#000" textLength="78.09" lengthAdjust="spacingAndGlyphs" stroke="#000" stroke-width="1.8" stroke-linejoin="round">1.0</text>
<text x="1923.11" y="120.70" font-size="52.5" font-weight="normal" fill="#000" textLength="94.60" lengthAdjust="spacingAndGlyphs" stroke="#000" stroke-width="1.8" stroke-linejoin="round">500</text>
<line x1="2062.7" y1="172.9" x2="2213.6" y2="172.9" stroke="#ff8000" stroke-width="3"/>
<ellipse cx="2139.2" cy="171.9" rx="13.5" ry="14.5" fill="#ff8000"/>
<text x="2230.78" y="193.30" font-size="64" font-weight="bold" letter-spacing="0.69" >rHG/85-1</text>
<line x1="2062.7" y1="253.9" x2="2213.6" y2="253.9" stroke="#0000aa" stroke-width="3"/>
<rect x="2125.8" y="242.4" width="26.5" height="25" fill="#0000aa"/>
<text x="2230.78" y="276.20" font-size="64" font-weight="bold" letter-spacing="1.50" >rHG/85-5</text>
<line x1="2062.7" y1="336.2" x2="2213.6" y2="336.2" stroke="#a000a0" stroke-width="3"/>
<polygon points="2139.0,318.4 2122.8,346.8 2155.2,346.8" fill="#a000a0"/>
<text x="2230.78" y="359.00" font-size="64" font-weight="bold" letter-spacing="1.80" >rHG/85-50</text>
<text x="1745.33" y="89.40" font-size="77.3" font-weight="bold" fill="#000" textLength="94.14" lengthAdjust="spacingAndGlyphs" >(b)</text>
<text transform="translate(1853.20,909.00) rotate(-90)" x="-0.50" y="0" font-size="77" font-weight="bold" textLength="265.01" lengthAdjust="spacingAndGlyphs" >Volume</text>
<text transform="translate(1853.20,621.40) rotate(-90)" x="-4.03" y="0" font-size="77" font-weight="bold" textLength="127.47" lengthAdjust="spacingAndGlyphs" >[cm</text>
<text transform="translate(1803.80,498.20) rotate(-90)" x="-1.24" y="0" font-size="38" font-weight="bold" textLength="30.10" lengthAdjust="spacingAndGlyphs" >3</text>
<text transform="translate(1853.20,455.70) rotate(-90)" x="-2.88" y="0" font-size="77" font-weight="bold" textLength="42.87" lengthAdjust="spacingAndGlyphs" >g</text>
<text transform="translate(1803.80,416.00) rotate(-90)" x="-1.38" y="0" font-size="38" font-weight="bold" textLength="50.65" lengthAdjust="spacingAndGlyphs" >–1</text>
<text transform="translate(1853.20,345.40) rotate(-90)" x="-1.85" y="0" font-size="77" font-weight="bold" textLength="145.94" lengthAdjust="spacingAndGlyphs" >STP]</text>
<text x="2177.65" y="1115.70" font-size="75" font-weight="bold" fill="#000" textLength="757.52" lengthAdjust="spacingAndGlyphs" >Relative pressure [p/p</text>
<text x="2934.04" y="1066.50" font-size="45.6" font-weight="normal" fill="#000" textLength="33.84" lengthAdjust="spacingAndGlyphs" stroke="#000" stroke-width="1.4">O</text>
<text x="2970.98" y="1113.00" font-size="75" font-weight="bold" fill="#000" textLength="22.27" lengthAdjust="spacingAndGlyphs" >]</text>
<g clip-path="url(#cc)">
<ellipse cx="524.0" cy="2016.0" rx="27.5" ry="23.5" fill="#ffd2ff"/>
<rect x="500.3" y="1948.3" width="47.4" height="43.4" fill="none" stroke="#00a0a0" stroke-width="2.6"/>
<rect x="501.0" y="2038.5" width="46" height="43" fill="#00a8a8"/>
<ellipse cx="898.0" cy="1902.7" rx="26.5" ry="24.5" fill="#ffd2ff"/>
<rect x="873.3" y="1948.3" width="49.4" height="43.4" fill="none" stroke="#00a0a0" stroke-width="2.6"/>
<rect x="874.0" y="2039.5" width="48" height="43" fill="#00a8a8"/>
<ellipse cx="1275.0" cy="1491.4" rx="25.5" ry="25.5" fill="#ffd2ff"/>
<rect x="1247.5" y="1482.5" width="49" height="43" fill="none" stroke="#00a0a0" stroke-width="3"/>
<rect x="1248.8" y="2006.0" width="46" height="43" fill="#00a8a8"/>
</g>
<rect x="336.5" y="1249.0" width="1123.0" height="830.5" fill="none" stroke="#222" stroke-width="3"/>
<line x1="319.5" y1="2079.5" x2="336.5" y2="2079.5" stroke="#222" stroke-width="3"/>
<line x1="328.5" y1="1975.7" x2="336.5" y2="1975.7" stroke="#222" stroke-width="3"/>
<line x1="319.5" y1="1871.9" x2="336.5" y2="1871.9" stroke="#222" stroke-width="3"/>
<line x1="328.5" y1="1768.1" x2="336.5" y2="1768.1" stroke="#222" stroke-width="3"/>
<line x1="319.5" y1="1664.2" x2="336.5" y2="1664.2" stroke="#222" stroke-width="3"/>
<line x1="328.5" y1="1560.4" x2="336.5" y2="1560.4" stroke="#222" stroke-width="3"/>
<line x1="319.5" y1="1456.6" x2="336.5" y2="1456.6" stroke="#222" stroke-width="3"/>
<line x1="328.5" y1="1352.8" x2="336.5" y2="1352.8" stroke="#222" stroke-width="3"/>
<line x1="319.5" y1="1249.0" x2="336.5" y2="1249.0" stroke="#222" stroke-width="3"/>
<line x1="1451.5" y1="1996.5" x2="1459.5" y2="1996.5" stroke="#222" stroke-width="3"/>
<line x1="1443.5" y1="1913.4" x2="1459.5" y2="1913.4" stroke="#222" stroke-width="3"/>
<line x1="1451.5" y1="1830.3" x2="1459.5" y2="1830.3" stroke="#222" stroke-width="3"/>
<line x1="1443.5" y1="1747.3" x2="1459.5" y2="1747.3" stroke="#222" stroke-width="3"/>
<line x1="1451.5" y1="1664.2" x2="1459.5" y2="1664.2" stroke="#222" stroke-width="3"/>
<line x1="1443.5" y1="1581.2" x2="1459.5" y2="1581.2" stroke="#222" stroke-width="3"/>
<line x1="1451.5" y1="1498.2" x2="1459.5" y2="1498.2" stroke="#222" stroke-width="3"/>
<line x1="1443.5" y1="1415.1" x2="1459.5" y2="1415.1" stroke="#222" stroke-width="3"/>
<line x1="1451.5" y1="1332.0" x2="1459.5" y2="1332.0" stroke="#222" stroke-width="3"/>
<line x1="523.6" y1="2079.5" x2="523.6" y2="2064.5" stroke="#222" stroke-width="2.5"/>
<line x1="523.6" y1="1249.0" x2="523.6" y2="1264.0" stroke="#222" stroke-width="2.5"/>
<line x1="897.8" y1="2079.5" x2="897.8" y2="2064.5" stroke="#222" stroke-width="2.5"/>
<line x1="897.8" y1="1249.0" x2="897.8" y2="1264.0" stroke="#222" stroke-width="2.5"/>
<line x1="1272.0" y1="2079.5" x2="1272.0" y2="2064.5" stroke="#222" stroke-width="2.5"/>
<line x1="1272.0" y1="1249.0" x2="1272.0" y2="1264.0" stroke="#222" stroke-width="2.5"/>
<text x="275.19" y="2092.00" font-size="52" font-weight="normal" fill="#000" textLength="31.52" lengthAdjust="spacingAndGlyphs" stroke="#000" stroke-width="0.8">0</text>
<text x="243.67" y="1884.38" font-size="52" font-weight="normal" fill="#000" textLength="63.05" lengthAdjust="spacingAndGlyphs" stroke="#000" stroke-width="0.8">50</text>
<text x="212.15" y="1676.75" font-size="52" font-weight="normal" fill="#000" textLength="94.57" lengthAdjust="spacingAndGlyphs" stroke="#000" stroke-width="0.8">100</text>
<text x="212.15" y="1469.12" font-size="52" font-weight="normal" fill="#000" textLength="94.57" lengthAdjust="spacingAndGlyphs" stroke="#000" stroke-width="0.8">150</text>
<text x="212.15" y="1261.50" font-size="52" font-weight="normal" fill="#000" textLength="94.57" lengthAdjust="spacingAndGlyphs" stroke="#000" stroke-width="0.8">200</text>
<text x="1478.27" y="2091.50" font-size="52" font-weight="normal" fill="#000" textLength="79.52" lengthAdjust="spacingAndGlyphs" stroke="#000" stroke-width="0.8">0.0</text>
<text x="1478.27" y="1925.40" font-size="52" font-weight="normal" fill="#000" textLength="79.52" lengthAdjust="spacingAndGlyphs" stroke="#000" stroke-width="0.8">0.2</text>
<text x="1478.27" y="1759.30" font-size="52" font-weight="normal" fill="#000" textLength="79.52" lengthAdjust="spacingAndGlyphs" stroke="#000" stroke-width="0.8">0.4</text>
<text x="1478.27" y="1593.20" font-size="52" font-weight="normal" fill="#000" textLength="79.52" lengthAdjust="spacingAndGlyphs" stroke="#000" stroke-width="0.8">0.6</text>
<text x="1478.27" y="1427.10" font-size="52" font-weight="normal" fill="#000" textLength="79.52" lengthAdjust="spacingAndGlyphs" stroke="#000" stroke-width="0.8">0.8</text>
<text x="1477.64" y="1261.00" font-size="52" font-weight="normal" fill="#000" textLength="79.52" lengthAdjust="spacingAndGlyphs" stroke="#000" stroke-width="0.8">1.0</text>
<text x="410.48" y="2144.80" font-size="58" font-weight="bold" letter-spacing="6.04" >rSG-50</text>
<text x="801.88" y="2144.80" font-size="58" font-weight="bold" letter-spacing="6.82" >rSG-5</text>
<text x="1176.88" y="2144.80" font-size="58" font-weight="bold" letter-spacing="4.70" >rSG-1</text>
<ellipse cx="437.2" cy="1320.0" rx="27.3" ry="25" fill="#ffb4ff"/>
<rect x="415.2" y="1394.0" width="47" height="43" fill="#00a8a8"/>
<rect x="414.6" y="1492.5" width="48" height="43" fill="none" stroke="#00a0a0" stroke-width="3"/>
<text x="507.95" y="1338.50" font-size="54" font-weight="normal" fill="#000" textLength="30.12" lengthAdjust="spacingAndGlyphs" stroke="#000" stroke-width="0.8">S</text>
<text x="536.70" y="1354.50" font-size="54" font-weight="normal" fill="#000" textLength="81.75" lengthAdjust="spacingAndGlyphs" stroke="#000" stroke-width="0.8">ext</text>
<text x="509.78" y="1433.70" font-size="55" font-weight="normal" fill="#000" textLength="33.14" lengthAdjust="spacingAndGlyphs" stroke="#000" stroke-width="0.8">V</text>
<text x="545.44" y="1452.50" font-size="52" font-weight="normal" fill="#000" textLength="149.53" lengthAdjust="spacingAndGlyphs" stroke="#000" stroke-width="0.8">micro</text>
<text x="514.37" y="1530.50" font-size="54" font-weight="normal" fill="#000" textLength="34.25" lengthAdjust="spacingAndGlyphs" stroke="#000" stroke-width="0.8">V</text>
<text x="548.90" y="1549.00" font-size="53" font-weight="normal" fill="#000" textLength="143.56" lengthAdjust="spacingAndGlyphs" stroke="#000" stroke-width="0.8">meso</text>
<text x="42.38" y="1185.70" font-size="69.5" font-weight="normal" fill="#000" textLength="84.93" lengthAdjust="spacingAndGlyphs" stroke="#000" stroke-width="1.6" stroke-linejoin="round">(c)</text>
<text transform="translate(168.50,2135.30) rotate(-90)" x="-5.74" y="0" font-size="67" font-weight="normal" textLength="665.04" lengthAdjust="spacingAndGlyphs" stroke="#000" stroke-width="1.4">External surface area</text>
<text transform="translate(168.50,1432.40) rotate(-90)" x="-5.91" y="0" font-size="67" font-weight="normal" textLength="92.07" lengthAdjust="spacingAndGlyphs" stroke="#000" stroke-width="1.4">[m</text>
<text transform="translate(120.50,1349.40) rotate(-90)" x="-2.17" y="0" font-size="39" font-weight="normal" textLength="24.05" lengthAdjust="spacingAndGlyphs" stroke="#000" stroke-width="0.8">2</text>
<text transform="translate(168.50,1327.40) rotate(-90)" x="-3.35" y="0" font-size="67" font-weight="normal" textLength="44.40" lengthAdjust="spacingAndGlyphs" stroke="#000" stroke-width="1.4">g</text>
<text transform="translate(120.50,1292.70) rotate(-90)" x="-0.00" y="0" font-size="39" font-weight="normal" textLength="49.89" lengthAdjust="spacingAndGlyphs" stroke="#000" stroke-width="0.8">–1</text>
<text transform="translate(168.50,1240.50) rotate(-90)" x="-0.68" y="0" font-size="67" font-weight="normal" textLength="24.19" lengthAdjust="spacingAndGlyphs" stroke="#000" stroke-width="1.4">]</text>
<text transform="translate(1652.70,1989.80) rotate(-90)" x="-5.92" y="0" font-size="67" font-weight="normal" textLength="405.13" lengthAdjust="spacingAndGlyphs" stroke="#000" stroke-width="1.4">Pore volume</text>
<text transform="translate(1652.70,1568.30) rotate(-90)" x="-5.34" y="0" font-size="67" font-weight="normal" textLength="120.57" lengthAdjust="spacingAndGlyphs" stroke="#000" stroke-width="1.4">[cm</text>
<text transform="translate(1604.00,1454.80) rotate(-90)" x="-1.59" y="0" font-size="39" font-weight="normal" textLength="23.23" lengthAdjust="spacingAndGlyphs" stroke="#000" stroke-width="0.8">3</text>
<text transform="translate(1652.70,1431.60) rotate(-90)" x="-3.24" y="0" font-size="67" font-weight="normal" textLength="42.91" lengthAdjust="spacingAndGlyphs" stroke="#000" stroke-width="1.4">g</text>
<text transform="translate(1604.00,1396.90) rotate(-90)" x="-0.00" y="0" font-size="39" font-weight="normal" textLength="48.53" lengthAdjust="spacingAndGlyphs" stroke="#000" stroke-width="0.8">–1</text>
<text transform="translate(1652.70,1344.70) rotate(-90)" x="-0.64" y="0" font-size="67" font-weight="normal" textLength="22.65" lengthAdjust="spacingAndGlyphs" stroke="#000" stroke-width="1.4">]</text>
<g clip-path="url(#cd)">
<circle cx="2220.5" cy="1999.3" r="26" fill="#ffcc99"/>
<rect x="2196.2" y="1995.0" width="47" height="42" fill="none" stroke="#a0a0ff" stroke-width="3"/>
<rect x="2196.0" y="2054.5" width="49" height="45" fill="#a0a0ff"/>
<ellipse cx="2593.3" cy="1939.7" rx="26.5" ry="25" fill="#ffcc99"/>
<rect x="2568.0" y="1943.9" width="50" height="43" fill="none" stroke="#a0a0ff" stroke-width="3"/>
<rect x="2569.8" y="2037.3" width="48.5" height="43.3" fill="#a0a0ff"/>
<ellipse cx="2966.0" cy="1343.5" rx="27" ry="26" fill="#ffcc99"/>
<rect x="2943.9" y="1738.8" width="47" height="45" fill="none" stroke="#a0a0ff" stroke-width="3"/>
<rect x="2941.5" y="1993.2" width="49" height="47" fill="#a0a0ff"/>
</g>
<rect x="2034.3" y="1236.5" width="1118.1" height="848.8" fill="none" stroke="#222" stroke-width="3"/>
<line x1="2017.3" y1="2085.3" x2="2034.3" y2="2085.3" stroke="#222" stroke-width="3"/>
<line x1="2026.3" y1="1979.2" x2="2034.3" y2="1979.2" stroke="#222" stroke-width="3"/>
<line x1="2017.3" y1="1873.1" x2="2034.3" y2="1873.1" stroke="#222" stroke-width="3"/>
<line x1="2026.3" y1="1767.0" x2="2034.3" y2="1767.0" stroke="#222" stroke-width="3"/>
<line x1="2017.3" y1="1660.9" x2="2034.3" y2="1660.9" stroke="#222" stroke-width="3"/>
<line x1="2026.3" y1="1554.8" x2="2034.3" y2="1554.8" stroke="#222" stroke-width="3"/>
<line x1="2017.3" y1="1448.7" x2="2034.3" y2="1448.7" stroke="#222" stroke-width="3"/>
<line x1="2026.3" y1="1342.6" x2="2034.3" y2="1342.6" stroke="#222" stroke-width="3"/>
<line x1="2017.3" y1="1236.5" x2="2034.3" y2="1236.5" stroke="#222" stroke-width="3"/>
<line x1="3144.4" y1="2000.4" x2="3152.4" y2="2000.4" stroke="#222" stroke-width="3"/>
<line x1="3136.4" y1="1915.5" x2="3152.4" y2="1915.5" stroke="#222" stroke-width="3"/>
<line x1="3144.4" y1="1830.7" x2="3152.4" y2="1830.7" stroke="#222" stroke-width="3"/>
<line x1="3136.4" y1="1745.8" x2="3152.4" y2="1745.8" stroke="#222" stroke-width="3"/>
<line x1="3144.4" y1="1660.9" x2="3152.4" y2="1660.9" stroke="#222" stroke-width="3"/>
<line x1="3136.4" y1="1576.0" x2="3152.4" y2="1576.0" stroke="#222" stroke-width="3"/>
<line x1="3144.4" y1="1491.1" x2="3152.4" y2="1491.1" stroke="#222" stroke-width="3"/>
<line x1="3136.4" y1="1406.3" x2="3152.4" y2="1406.3" stroke="#222" stroke-width="3"/>
<line x1="3144.4" y1="1321.4" x2="3152.4" y2="1321.4" stroke="#222" stroke-width="3"/>
<line x1="2220.6" y1="2085.3" x2="2220.6" y2="2070.3" stroke="#222" stroke-width="2.5"/>
<line x1="2220.6" y1="1236.5" x2="2220.6" y2="1251.5" stroke="#222" stroke-width="2.5"/>
<line x1="2593.3" y1="2085.3" x2="2593.3" y2="2070.3" stroke="#222" stroke-width="2.5"/>
<line x1="2593.3" y1="1236.5" x2="2593.3" y2="1251.5" stroke="#222" stroke-width="2.5"/>
<line x1="2966.0" y1="2085.3" x2="2966.0" y2="2070.3" stroke="#222" stroke-width="2.5"/>
<line x1="2966.0" y1="1236.5" x2="2966.0" y2="1251.5" stroke="#222" stroke-width="2.5"/>
<text x="1972.60" y="2097.30" font-size="53" font-weight="normal" fill="#000" textLength="31.83" lengthAdjust="spacingAndGlyphs" stroke="#000" stroke-width="0.8">0</text>
<text x="1940.77" y="1885.10" font-size="53" font-weight="normal" fill="#000" textLength="63.67" lengthAdjust="spacingAndGlyphs" stroke="#000" stroke-width="0.8">50</text>
<text x="1908.93" y="1672.90" font-size="53" font-weight="normal" fill="#000" textLength="95.50" lengthAdjust="spacingAndGlyphs" stroke="#000" stroke-width="0.8">100</text>
<text x="1908.93" y="1460.70" font-size="53" font-weight="normal" fill="#000" textLength="95.50" lengthAdjust="spacingAndGlyphs" stroke="#000" stroke-width="0.8">150</text>
<text x="1908.93" y="1248.50" font-size="53" font-weight="normal" fill="#000" textLength="95.50" lengthAdjust="spacingAndGlyphs" stroke="#000" stroke-width="0.8">200</text>
<text x="3170.22" y="2098.30" font-size="53" font-weight="normal" fill="#000" textLength="81.04" lengthAdjust="spacingAndGlyphs" stroke="#000" stroke-width="0.8">0.0</text>
<text x="3170.22" y="1928.54" font-size="53" font-weight="normal" fill="#000" textLength="81.04" lengthAdjust="spacingAndGlyphs" stroke="#000" stroke-width="0.8">0.2</text>
<text x="3170.22" y="1758.78" font-size="53" font-weight="normal" fill="#000" textLength="81.04" lengthAdjust="spacingAndGlyphs" stroke="#000" stroke-width="0.8">0.4</text>
<text x="3170.22" y="1589.02" font-size="53" font-weight="normal" fill="#000" textLength="81.04" lengthAdjust="spacingAndGlyphs" stroke="#000" stroke-width="0.8">0.6</text>
<text x="3170.22" y="1419.26" font-size="53" font-weight="normal" fill="#000" textLength="81.04" lengthAdjust="spacingAndGlyphs" stroke="#000" stroke-width="0.8">0.8</text>
<text x="3170.46" y="1249.50" font-size="53" font-weight="normal" fill="#000" textLength="81.04" lengthAdjust="spacingAndGlyphs" stroke="#000" stroke-width="0.8">1.0</text>
<text x="2085.28" y="2142.80" font-size="53" font-weight="normal" letter-spacing="2.12" stroke="#000" stroke-width="1.4">rHG/85-50</text>
<text x="2474.98" y="2142.80" font-size="53" font-weight="normal" letter-spacing="2.26" stroke="#000" stroke-width="1.4">rHG/85-5</text>
<text x="2847.48" y="2142.80" font-size="53" font-weight="normal" letter-spacing="1.59" stroke="#000" stroke-width="1.4">rHG/85-1</text>
<ellipse cx="2135.3" cy="1308.3" rx="27" ry="24.7" fill="#ffa860"/>
<rect x="2108.8" y="1379.0" width="48.4" height="43.5" fill="#a0a0ff"/>
<rect x="2110.2" y="1478.7" width="47.6" height="44.7" fill="none" stroke="#a0a0ff" stroke-width="3"/>
<text x="2204.74" y="1326.30" font-size="53" font-weight="normal" fill="#000" textLength="28.73" lengthAdjust="spacingAndGlyphs" stroke="#000" stroke-width="0.8">S</text>
<text x="2235.59" y="1345.50" font-size="54" font-weight="normal" fill="#000" textLength="81.86" lengthAdjust="spacingAndGlyphs" stroke="#000" stroke-width="0.8">ext</text>
<text x="2206.48" y="1419.00" font-size="54" font-weight="normal" fill="#000" textLength="33.04" lengthAdjust="spacingAndGlyphs" stroke="#000" stroke-width="0.8">V</text>
<text x="2239.67" y="1437.70" font-size="52" font-weight="normal" fill="#000" textLength="151.94" lengthAdjust="spacingAndGlyphs" stroke="#000" stroke-width="0.8">micro</text>
<text x="2208.78" y="1518.00" font-size="54" font-weight="normal" fill="#000" textLength="33.04" lengthAdjust="spacingAndGlyphs" stroke="#000" stroke-width="0.8">V</text>
<text x="2244.53" y="1536.80" font-size="53" font-weight="normal" fill="#000" textLength="142.41" lengthAdjust="spacingAndGlyphs" stroke="#000" stroke-width="0.8">meso</text>
<text x="1745.84" y="1167.20" font-size="70" font-weight="normal" fill="#000" textLength="95.82" lengthAdjust="spacingAndGlyphs" stroke="#000" stroke-width="1.6" stroke-linejoin="round">(d)</text>
<text transform="translate(1866.50,2143.00) rotate(-90)" x="-5.88" y="0" font-size="67" font-weight="normal" textLength="681.68" lengthAdjust="spacingAndGlyphs" stroke="#000" stroke-width="1.4">External surface area</text>
<text transform="translate(1866.50,1422.80) rotate(-90)" x="-5.82" y="0" font-size="67" font-weight="normal" textLength="90.70" lengthAdjust="spacingAndGlyphs" stroke="#000" stroke-width="1.4">[m</text>
<text transform="translate(1818.60,1339.80) rotate(-90)" x="-2.31" y="0" font-size="39" font-weight="normal" textLength="25.51" lengthAdjust="spacingAndGlyphs" stroke="#000" stroke-width="0.8">2</text>
<text transform="translate(1866.50,1316.60) rotate(-90)" x="-3.35" y="0" font-size="67" font-weight="normal" textLength="44.40" lengthAdjust="spacingAndGlyphs" stroke="#000" stroke-width="1.4">g</text>
<text transform="translate(1818.60,1280.70) rotate(-90)" x="-0.00" y="0" font-size="39" font-weight="normal" textLength="52.09" lengthAdjust="spacingAndGlyphs" stroke="#000" stroke-width="0.8">–1</text>
<text transform="translate(1866.50,1225.10) rotate(-90)" x="-0.59" y="0" font-size="67" font-weight="normal" textLength="21.11" lengthAdjust="spacingAndGlyphs" stroke="#000" stroke-width="1.4">]</text>
<text transform="translate(3346.50,1992.50) rotate(-90)" x="-6.04" y="0" font-size="67" font-weight="normal" textLength="413.41" lengthAdjust="spacingAndGlyphs" stroke="#000" stroke-width="1.4">Pore volume</text>
<text transform="translate(3346.50,1561.80) rotate(-90)" x="-5.33" y="0" font-size="67" font-weight="normal" textLength="120.35" lengthAdjust="spacingAndGlyphs" stroke="#000" stroke-width="1.4">[cm</text>
<text transform="translate(3298.60,1447.10) rotate(-90)" x="-1.77" y="0" font-size="39" font-weight="normal" textLength="25.81" lengthAdjust="spacingAndGlyphs" stroke="#000" stroke-width="0.8">3</text>
<text transform="translate(3346.50,1422.80) rotate(-90)" x="-3.25" y="0" font-size="67" font-weight="normal" textLength="43.04" lengthAdjust="spacingAndGlyphs" stroke="#000" stroke-width="1.4">g</text>
<text transform="translate(3298.60,1388.00) rotate(-90)" x="-0.00" y="0" font-size="39" font-weight="normal" textLength="52.09" lengthAdjust="spacingAndGlyphs" stroke="#000" stroke-width="0.8">–1</text>
<text transform="translate(3346.50,1332.40) rotate(-90)" x="-0.59" y="0" font-size="67" font-weight="normal" textLength="20.97" lengthAdjust="spacingAndGlyphs" stroke="#000" stroke-width="1.4">]</text>
</svg></body></html>
